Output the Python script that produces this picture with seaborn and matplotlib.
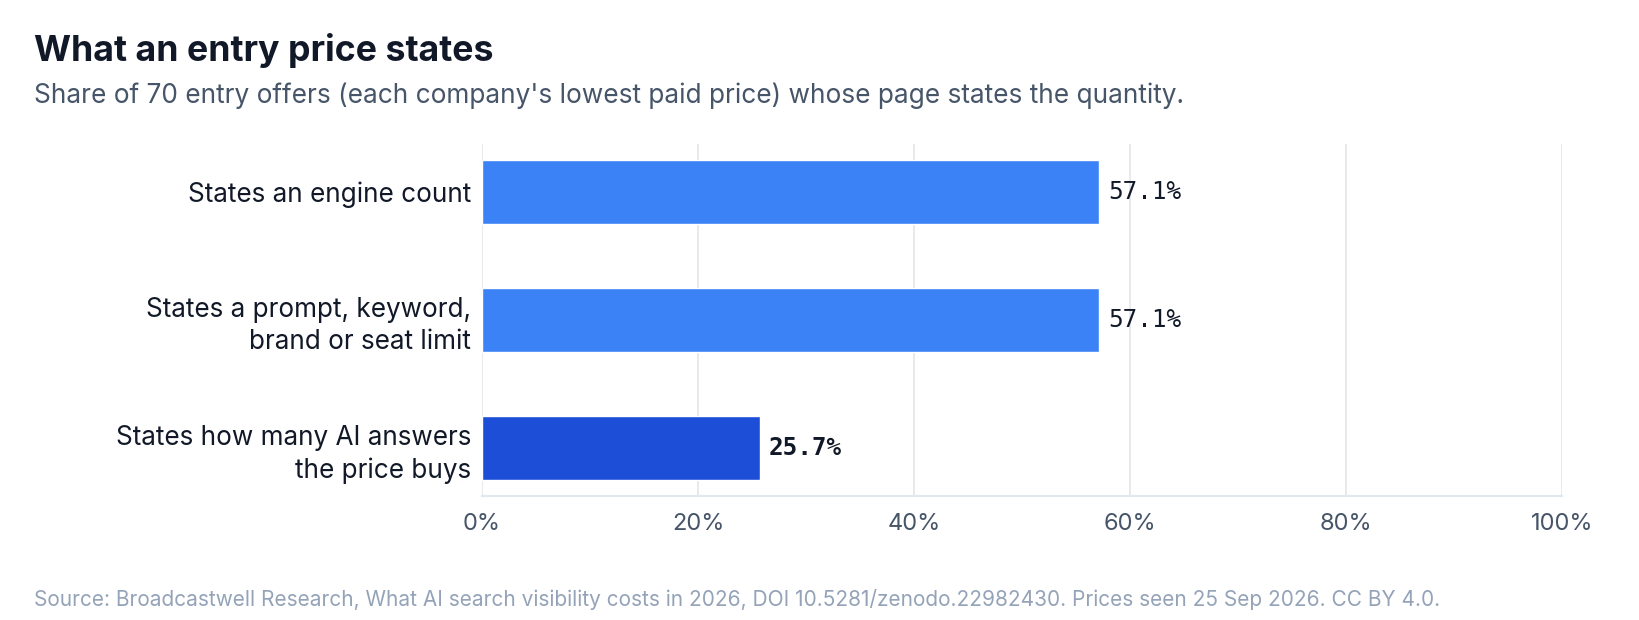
import matplotlib
matplotlib.use("Agg")
import matplotlib.pyplot as plt
import seaborn as sns
import pandas as pd
from matplotlib.ticker import FuncFormatter

# data
categories = [
    "States an engine count",
    "States a prompt, keyword,\nbrand or seat limit",
    "States how many AI answers\nthe price buys",
]
shares     = [57.1, 57.1, 25.7]
highlight  = [False, False, True]
x_ticks    = [0, 20, 40, 60, 80, 100]

TITLE    = "What an entry price states"
SUBTITLE = "Share of 70 entry offers (each company's lowest paid price) whose page states the quantity."
SOURCE   = ("Source: Broadcastwell Research, What AI search visibility costs in 2026, "
            "DOI 10.5281/zenodo.22982430. Prices seen 25 Sep 2026. CC BY 4.0.")

BAR_COLOR  = "#3b82f6"
HI_COLOR   = "#1d4ed8"
INK        = "#111827"
MUTED      = "#475569"
FAINT      = "#94a3b8"
GRID       = "#e5e7eb"

sns.set_theme(style="white")
plt.rcParams["font.family"] = ["Inter", "DejaVu Sans"]

df = pd.DataFrame({"label": categories, "share": shares})
palette = {c: (HI_COLOR if h else BAR_COLOR) for c, h in zip(categories, highlight)}

W, H = 1639, 620
fig = plt.figure(figsize=(W / 100, H / 100), dpi=100)
ax = fig.add_axes([482 / W, 124 / H, 1080 / W, 352 / H])

sns.barplot(data=df, x="share", y="label", hue="label", palette=palette,
            orient="h", width=0.5, legend=False, ax=ax, saturation=1)

ax.set_xlim(0, 100)
ax.set_ylim(2.373, -0.375)
ax.set_xticks(x_ticks)
ax.xaxis.set_major_formatter(FuncFormatter(lambda v, _: f"{v:.0f}%"))
ax.set_xlabel("")
ax.set_ylabel("")

ax.grid(axis="x", color=GRID, linewidth=1.3)
ax.set_axisbelow(True)
for side in ["top", "right", "left"]:
    ax.spines[side].set_visible(False)
ax.spines["bottom"].set_color("#e2e8f0")
ax.spines["bottom"].set_linewidth(1.6)

ax.tick_params(axis="x", length=6, width=1.5, color="#334155", pad=6,
               labelsize=17, labelcolor=MUTED)
ax.tick_params(axis="y", length=0, pad=8, labelsize=18.8, labelcolor=INK)
for lbl in ax.get_yticklabels():
    lbl.set_linespacing(1.3)

for i, (v, h) in enumerate(zip(shares, highlight)):
    ax.annotate(f"{v:.1f}%", xy=(v, i), xytext=(6.8, 0), textcoords="offset points",
                ha="left", va="center", fontsize=17.5, color=INK,
                family="DejaVu Sans Mono", fontweight="bold" if h else "normal")

fig.text(34 / W, 1 - 61 / H, TITLE, fontsize=25.7, fontweight="bold",
         color=INK, ha="left", va="baseline")
fig.text(34 / W, 1 - 103 / H, SUBTITLE, fontsize=18.9, color=MUTED,
         ha="left", va="baseline")
fig.text(34 / W, 1 - 606 / H, SOURCE, fontsize=15, color=FAINT,
         ha="left", va="baseline")

fig.savefig("out.png", dpi=100, facecolor="white")
plt.close(fig)
